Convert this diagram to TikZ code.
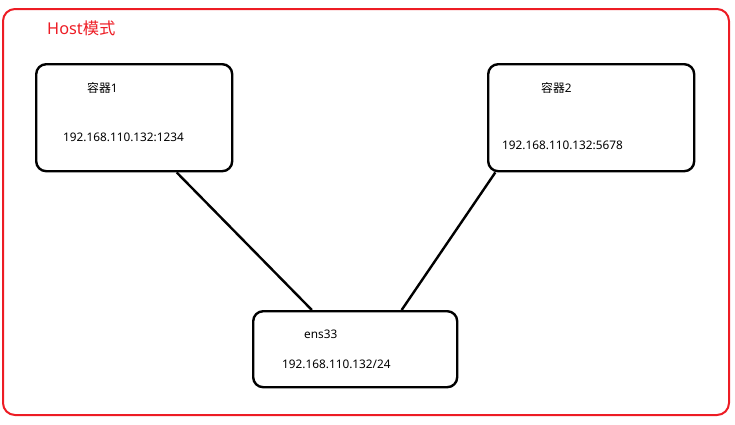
\documentclass[tikz,border=0pt]{standalone}
\usepackage{fontspec}
\setmainfont{Noto Sans}
\newfontfamily\cjk{Noto Sans CJK SC}
\usetikzlibrary{calc}
\definecolor{hostred}{HTML}{ED1C24}
\tikzset{
  box/.style={draw=black, line width=2.4pt, rounded corners=10pt, inner sep=0pt, anchor=north west},
  lbl/.style={font=\fontsize{11.8}{14}\selectfont, inner sep=0pt, anchor=west, text=black},
  link/.style={line width=2.4pt, black},
}
\begin{document}
\begin{tikzpicture}[x=1pt,y=-1pt]
\useasboundingbox (0,0) rectangle (735,424);
\node[draw=hostred, line width=2pt, rounded corners=12pt, minimum width=726pt, minimum height=406pt, anchor=north west, inner sep=0pt] (host) at (2,8) {};
\node[anchor=west, inner sep=0pt, text=hostred, font=\fontsize{16.3}{18}\selectfont] (title) at (47,28) {Host{\cjk 模式}};

\node[box, minimum width=196pt, minimum height=107pt] (b1) at (35,63) {};
\node[box, minimum width=206pt, minimum height=107pt] (b2) at (487,63) {};
\node[box, minimum width=204pt, minimum height=76pt] (b3) at (252,310) {};

\node[lbl] (c1) at (87,88) {{\cjk 容器}1};
\node[lbl] (ip1) at (63,137) {192.168.110.132:1234};
\node[lbl] (c2) at (541,88) {{\cjk 容器}2};
\node[lbl] (ip2) at (502,145) {192.168.110.132:5678};
\node[lbl] (ens) at (304,334) {ens33};
\node[lbl] (ip3) at (282,364) {192.168.110.132/24};

\draw[link] ($(b1.south west)!0.714!(b1.south east)$) -- ($(b3.north west)!0.29!(b3.north east)$);
\draw[link] ($(b2.south west)!0.04!(b2.south east)$) -- ($(b3.north west)!0.725!(b3.north east)$);
\end{tikzpicture}
\end{document}
